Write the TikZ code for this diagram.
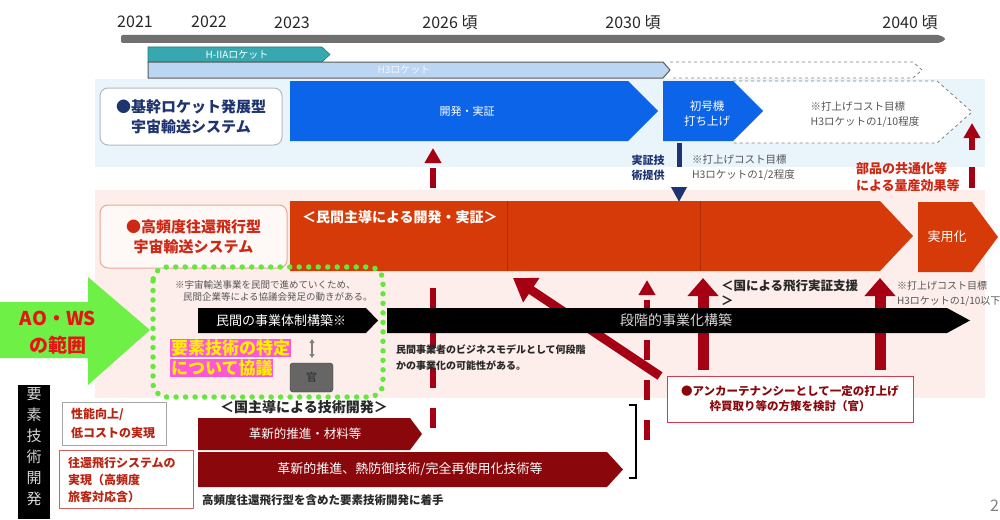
\documentclass[tikz,border=0pt]{standalone}
\usepackage{fontspec}
\setmainfont{Noto Sans CJK JP}
\usetikzlibrary{arrows.meta}
\definecolor{bandblue}{RGB}{234,244,251}
\definecolor{bandpink}{RGB}{253,238,236}
\definecolor{chevblue}{RGB}{12,100,232}
\definecolor{navy}{RGB}{30,52,112}
\definecolor{chevred}{RGB}{214,58,8}
\definecolor{darkred}{RGB}{138,8,12}
\definecolor{arrowred}{RGB}{165,0,20}
\definecolor{txtred}{RGB}{205,40,20}
\definecolor{tealbar}{RGB}{56,168,176}
\definecolor{hthreeblue}{RGB}{186,214,242}
\definecolor{tlgray}{RGB}{112,112,112}
\definecolor{aogreen}{RGB}{110,240,70}
\definecolor{dotgreen}{RGB}{100,232,60}
\definecolor{magent}{RGB}{255,85,215}
\definecolor{hlyellow}{RGB}{255,240,0}
\definecolor{txtdark}{RGB}{40,40,40}
\definecolor{txtgray}{RGB}{85,85,85}
\newcommand{\chevshape}[6]{\fill[#1] (#2,#3) -- (#6,#3) -- (#4,{(#3+#5)/2}) -- (#6,#5) -- (#2,#5) -- cycle;}
\begin{document}
\begin{tikzpicture}[x=1pt,y=-1pt,
  every node/.style={inner sep=0pt,outer sep=0pt},
  year/.style={font=\fontsize{16}{18}\selectfont,text=txtdark},
  boxlab/.style={rounded corners=8pt,line width=1pt,align=center,font=\bfseries\fontsize{15}{20}\selectfont},
  wtxt/.style={text=white},
  smallgray/.style={text=txtgray,align=left,font=\fontsize{10.5}{15}\selectfont},
  redarrowdash/.style={draw=arrowred,line width=5.5pt,dash pattern=on 20pt off 20pt,-{Triangle[width=16pt,length=15pt]}},
  redarrowsolid/.style={draw=arrowred,line width=11pt,-{Triangle[width=30pt,length=18pt]}},
  chevtxt/.style={text=white,font=\fontsize{12.5}{15}\selectfont}]
\useasboundingbox (0,0) rectangle (1000,519);
\fill[white] (0,0) rectangle (1000,519);
% bands
\fill[bandblue] (95,79) rectangle (985,167);
\fill[bandpink] (95,190) rectangle (985,398);
% timeline
\fill[tlgray, rounded corners=2pt] (121,35) -- (940,35) -- (946,39) -- (940,43) -- (121,43) -- cycle;
\node[year] (y2021) at (135,22) {2021};
\node[year] (y2022) at (209,22) {2022};
\node[year] (y2023) at (292,23) {2023};
\node[year] (y2026) at (450,23) {2026 頃};
\node[year] (y2030) at (633,23) {2030 頃};
\node[year] (y2040) at (910,23) {2040 頃};
% rocket bars
\filldraw[fill=tealbar, draw=tealbar!70!black, line width=0.6pt] (148,47) -- (322,47) -- (330,54.5) -- (322,62) -- (148,62) -- cycle;
\node[wtxt, font=\fontsize{10}{12}\selectfont] (h2a) at (237,54.5) {H-IIAロケット};
\filldraw[fill=hthreeblue, draw=gray!70!black, line width=1pt] (148,62) -- (663,62) -- (670,70) -- (663,78) -- (148,78) -- cycle;
\node[text=white!85!hthreeblue, font=\fontsize{10}{12}\selectfont] (h3) at (404,70) {H3ロケット};
\draw[gray, dashed, line width=0.8pt] (670,62) -- (913,62) -- (922,70) -- (913,78) -- (670,78);
% row labels
\node[boxlab, draw=gray!50!bandblue, fill=white, text=navy, minimum width=182pt, minimum height=57pt] (lab1) at (191,116.5) {●基幹ロケット発展型\\宇宙輸送システム};
\node[boxlab, draw=chevred!45!white, fill=white!60!bandpink, text=txtred, minimum width=187pt, minimum height=63pt] (lab2) at (193.5,236.5) {●高頻度往還飛行型\\宇宙輸送システム};
% arrows (behind bars)
\coordinate (da1s) at (433,428); \coordinate (da1e) at (433,148);
\draw[redarrowdash] (da1s) -- (da1e);
\coordinate (da2s) at (647,440); \coordinate (da2e) at (647,280);
\draw[redarrowdash] (da2s) -- (da2e);
\coordinate (da3s) at (972,188); \coordinate (da3e) at (972,123);
\draw[draw=arrowred,line width=5.5pt,dash pattern=on 21pt off 17pt,-{Triangle[width=16pt,length=15pt]}] (da3s) -- (da3e);
\coordinate (sa1s) at (703,370); \coordinate (sa1e) at (703,278);
\draw[redarrowsolid] (sa1s) -- (sa1e);
\coordinate (sa2s) at (880,370); \coordinate (sa2e) at (880,278);
\draw[redarrowsolid] (sa2s) -- (sa2e);
\coordinate (diags) at (660,376); \coordinate (diage) at (513,278);
\draw[draw=arrowred,line width=9pt,-{Triangle[width=28pt,length=22pt]}] (diags) -- (diage);
\coordinate (bas) at (679,143); \coordinate (bae) at (679,202);
\draw[navy, line width=5pt, dash pattern=on 24pt off 100pt, -{Triangle[width=15pt,length=15pt]}] (bas) -- (bae);
% row 1 chevrons
\filldraw[fill=white, draw=gray, dashed, line width=0.8pt] (733,81) -- (937,81) -- (972,112) -- (937,143) -- (733,143);
\chevshape{chevblue}{290}{81}{658}{141}{628}
\chevshape{chevblue}{663}{81}{763}{141}{733}
\node[wtxt, font=\fontsize{11}{14}\selectfont] (kaihatsu) at (467,111) {開発・実証};
\node[wtxt, align=center, font=\fontsize{11.5}{15}\selectfont] (shogo) at (707,114) {初号機\\打ち上げ};
\node[smallgray] (cost1) at (865,115) {※打上げコスト目標\\H3ロケットの1/10程度};
\node[text=navy, align=left, font=\bfseries\fontsize{11}{15}\selectfont] (jissho) at (648,167.5) {実証技\\術提供};
\node[smallgray, anchor=west] (cost2) at (692,167.5) {※打上げコスト目標\\H3ロケットの1/2程度};
\node[text=txtred, align=left, font=\bfseries\fontsize{13}{16.5}\selectfont, anchor=west] (buhin) at (856,177) {部品の共通化等\\による量産効果等};
% row 2 chevrons
\chevshape{chevred}{290}{201}{913}{271}{880}
\draw[chevred!80!black, line width=0.7pt] (507,201) -- (507,271);
\draw[chevred!80!black, line width=0.7pt] (700,201) -- (700,271);
\chevshape{chevred}{918}{202}{998}{272}{972}
\node[wtxt, font=\bfseries\fontsize{14}{16}\selectfont, anchor=west] (minkan) at (302,217) {＜民間主導による開発・実証＞};
\node[wtxt, font=\fontsize{13}{15}\selectfont] (jitsuyo) at (947,237) {実用化};
% black bars
\chevshape{black}{198}{308}{378}{333}{366}
\chevshape{black}{387}{308}{970}{333}{947}
\node[wtxt, font=\fontsize{13}{15}\selectfont] (taisei) at (281,320.5) {民間の事業体制構築※};
\node[text=white!85!black, font=\fontsize{14}{16}\selectfont] (dankai) at (676,320.5) {段階的事業化構築};
% green arrow
\fill[aogreen] (0,302) -- (88,302) -- (88,277) -- (150,330) -- (88,385) -- (88,358) -- (0,358) -- cycle;
\node[text={rgb,255:red,232;green,20;blue,20}, align=center, font=\bfseries\fontsize{19}{27}\selectfont] (aows) at (58,333) {AO・WS\\の範囲};
% green dotted box
\draw[dotgreen, line width=5.5pt, line cap=round, dash pattern=on 0pt off 9.5pt, rounded corners=14pt] (153,267) rectangle (383,397);
\node[text=txtgray, font=\fontsize{9.5}{12}\selectfont, anchor=west] (note1) at (175,285) {※宇宙輸送事業を民間で進めていくため、};
\node[text=txtgray, font=\fontsize{9.5}{12}\selectfont, anchor=west] (note2) at (183,297) {民間企業等による協議会発足の動きがある。};
\node[fill=magent, text=hlyellow, inner sep=1pt, font=\bfseries\fontsize{17}{19}\selectfont, anchor=west] (yoso1) at (170,348) {要素技術の特定};
\node[fill=magent, text=hlyellow, inner sep=1pt, font=\bfseries\fontsize{17}{19}\selectfont, anchor=west] (yoso2) at (170,368) {について協議};
\node[fill=gray!80!black, draw=gray!40!black, rounded corners=3pt, minimum width=43pt, minimum height=29pt, text=txtdark, font=\fontsize{11}{13}\selectfont] (kan) at (311.5,377.5) {官};
\coordinate (dbl1) at (312,339); \coordinate (dbl2) at (312,358);
\draw[gray, line width=1.2pt, {Triangle[width=5pt,length=4pt]}-{Triangle[width=5pt,length=4pt]}] (dbl1) -- (dbl2);
% misc texts in row 2
\node[text=txtdark, align=left, font=\bfseries\fontsize{10}{16}\selectfont, anchor=west] (biz) at (396,358) {民間事業者のビジネスモデルとして何段階\\かの事業化の可能性がある。};
\node[text=txtdark, align=left, font=\bfseries\fontsize{12.5}{15}\selectfont, anchor=west] (kuni) at (721,292.5) {＜国による飛行実証支援\\＞};
\node[text=txtgray, align=left, font=\fontsize{10}{15}\selectfont, anchor=west] (cost3) at (897,293.5) {※打上げコスト目標\\H3ロケットの1/10以下};
\node[draw={rgb,255:red,210;green,60;blue,80}, fill=white, line width=0.8pt, minimum width=246pt, minimum height=46pt, align=center, text=darkred, font=\bfseries\fontsize{11.5}{15}\selectfont] (anchor) at (790,399) {●アンカーテナンシーとして一定の打上げ\\枠買取り等の方策を検討（官）};
% element technology
\fill[black] (18,385) rectangle (50,519);
\node[text=white!85!black, align=center, font=\fontsize{15}{21}\selectfont] (yosogijutsu) at (34,447) {要\\素\\技\\術\\開\\発};
\node[draw=gray!70, line width=1pt, minimum width=104pt, minimum height=43pt] (seino) at (114,423.5) {};
\node[text=txtred!90!black, align=left, font=\bfseries\fontsize{12}{19}\selectfont, anchor=west] (seinotxt) at (71,423) {性能向上/\\低コストの実現};
\node[draw={rgb,255:red,205;green,95;blue,95}, line width=0.8pt, minimum width=134pt, minimum height=58pt] (okan) at (126,479) {};
\node[text=txtred!90!black, align=left, font=\bfseries\fontsize{12}{17}\selectfont, anchor=west] (okantxt) at (68,479.5) {往還飛行システムの\\実現（高頻度\\旅客対応含）};
\node[text=txtdark, font=\bfseries\fontsize{14}{16}\selectfont] (kunishu) at (304,407) {＜国主導による技術開発＞};
\chevshape{darkred}{198}{418}{422}{450}{410}
\chevshape{darkred}{198}{452}{623}{487}{607}
\node[chevtxt] (kakushin1) at (305,434) {革新的推進・材料等};
\node[chevtxt, font=\fontsize{13}{15}\selectfont] (kakushin2) at (410,469.5) {革新的推進、熱防御技術/完全再使用化技術等};
\draw[black, line width=2.5pt] (629,405) -- (636,405) -- (636,478) -- (629,478);
\node[text=txtdark, font=\bfseries\fontsize{11.5}{13}\selectfont, anchor=west] (chakushu) at (202,500) {高頻度往還飛行型を含めた要素技術開発に着手};
\node[text=gray, font=\fontsize{16}{18}\selectfont, anchor=west] (page) at (990,506) {2};
\end{tikzpicture}
\end{document}
